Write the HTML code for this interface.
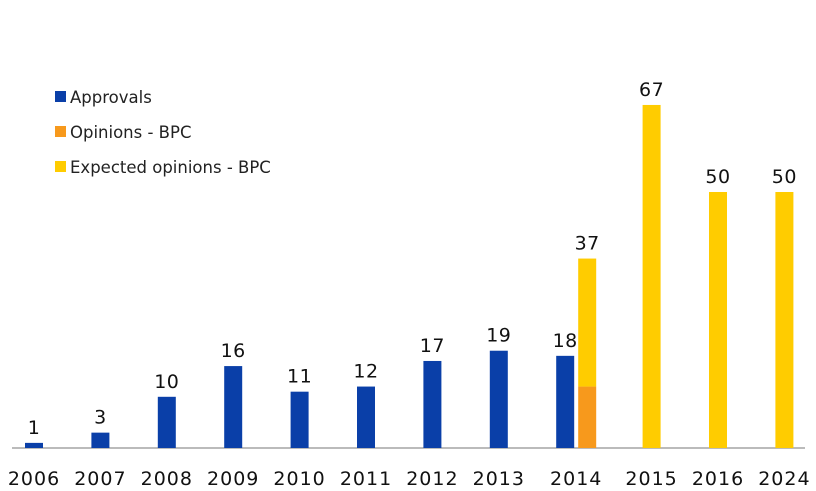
<!DOCTYPE html>
<html><head><meta charset="utf-8"><style>
body{margin:0;background:#fff;}
svg{display:block;font-family:"DejaVu Sans","Liberation Sans",sans-serif;}
</style></head><body>
<svg id="chart" width="816" height="491">
<line x1="12" y1="448" x2="805" y2="448" stroke="#777" stroke-width="1"/>
<g>
<g><rect x="55" y="91" width="11" height="11" fill="#0a3fa8"/><text x="70" y="103" font-size="16.5" fill="#222">Approvals</text></g>
<g><rect x="55" y="126" width="11" height="11" fill="#f7991c"/><text x="70" y="138" font-size="16.5" fill="#222">Opinions - BPC</text></g>
<g><rect x="55" y="161" width="11" height="11" fill="#ffcc00"/><text x="70" y="173" font-size="16.5" fill="#222">Expected opinions - BPC</text></g>
</g>
<g id="marks"></g>
</svg>
<script>
const years=["2006","2007","2008","2009","2010","2011","2012","2013","2014","2015","2016","2024"];
const approvals=[1,3,10,16,11,12,17,19,18,null,null,null];
const opinions=[null,null,null,null,null,null,null,null,12,null,null,null];
const expected=[null,null,null,null,null,null,null,null,25,67,50,50];
const totalLabels=[null,null,null,null,null,null,null,null,37,67,50,50];
const base=448, k=5.12, bw=18;
function xc(i){return 34+66.4*i+(i>8?20:0);}
function y(v){return base-v*k;}
const g=document.getElementById('marks');
const NS="http://www.w3.org/2000/svg";
function rect(x,yy,h,fill,name){const r=document.createElementNS(NS,'rect');r.setAttribute('x',x);r.setAttribute('y',yy);r.setAttribute('width',bw);r.setAttribute('height',h);r.setAttribute('fill',fill);


g.appendChild(r);}
function txt(x,yy,s,size,name,ls){const t=document.createElementNS(NS,'text');t.setAttribute('x',x);t.setAttribute('y',yy);t.setAttribute('text-anchor','middle');t.setAttribute('font-size',size);t.setAttribute('fill','#111');t.setAttribute('letter-spacing',ls);t.setAttribute('font-weight','500');t.textContent=s;


g.appendChild(t);}
years.forEach((yr,i)=>{
  const c=xc(i);
  const stacked=(approvals[i]!=null&&(opinions[i]!=null||expected[i]!=null));
  const labelX=stacked?c+11:c;
  txt(labelX,485,yr,19,'x-tick-label-'+yr,'1');
  if(approvals[i]!=null){
    const bx=c-bw/2;
    rect(bx,y(approvals[i]),approvals[i]*k,'#0a3fa8','bar-approvals-'+yr);
    txt(c,y(approvals[i])-9,String(approvals[i]),19,'value-approvals-'+yr,'0.5');
  }
  const sx=stacked?c+13:c-bw/2;
  let cum=0;
  if(opinions[i]!=null){rect(sx,y(opinions[i]),opinions[i]*k,'#f7991c','bar-opinions-'+yr);cum+=opinions[i];}
  if(expected[i]!=null){rect(sx,y(cum+expected[i]),expected[i]*k,'#ffcc00','bar-expected-'+yr);cum+=expected[i];}
  if(totalLabels[i]!=null){txt(sx+bw/2,y(totalLabels[i])-9,String(totalLabels[i]),19,'value-total-'+yr,'0.5');}
});
</script>
</body></html>
